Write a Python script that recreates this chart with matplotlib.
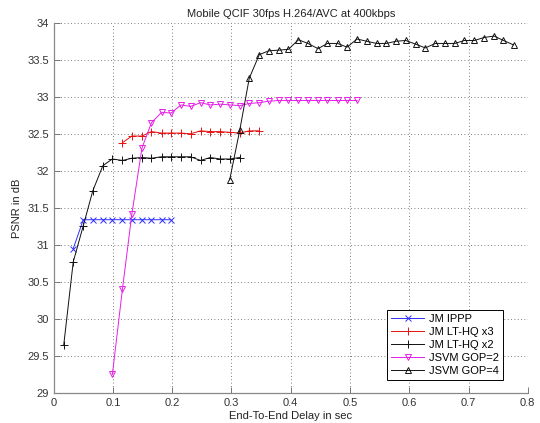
import numpy as np
import matplotlib
matplotlib.use('Agg')
import matplotlib.pyplot as plt
from matplotlib.ticker import FuncFormatter, MultipleLocator

# end-to-end delay of each frame slot (sec), index 0 = slot 1
delay = [0.017, 0.033, 0.050, 0.066, 0.083, 0.099, 0.116, 0.132, 0.149, 0.165,
         0.182, 0.198, 0.215, 0.231, 0.248, 0.264, 0.281, 0.297, 0.314, 0.330,
         0.347, 0.363, 0.380, 0.396, 0.413, 0.429, 0.446, 0.462, 0.479, 0.495,
         0.512, 0.528, 0.545, 0.561, 0.578, 0.594, 0.611, 0.627, 0.644, 0.660,
         0.677, 0.693, 0.710, 0.726, 0.743, 0.759, 0.776]

x_ippp = delay[1:12]
psnr_ippp = [30.95, 31.34, 31.34, 31.34, 31.34, 31.34, 31.34, 31.34, 31.34, 31.34, 31.34]

x_lt3 = delay[6:21]
psnr_lt3 = [32.38, 32.47, 32.47, 32.53, 32.51, 32.51, 32.51, 32.50, 32.54, 32.53,
            32.53, 32.52, 32.51, 32.54, 32.54]

x_lt2 = delay[0:19]
psnr_lt2 = [29.65, 30.77, 31.26, 31.73, 32.07, 32.16, 32.14, 32.17, 32.18, 32.17,
            32.19, 32.19, 32.19, 32.19, 32.14, 32.18, 32.16, 32.16, 32.18]

x_gop2 = delay[5:31]
psnr_gop2 = [29.25, 30.40, 31.42, 32.31, 32.65, 32.79, 32.78, 32.89, 32.87, 32.92,
             32.89, 32.90, 32.89, 32.88, 32.91, 32.92, 32.94, 32.95, 32.95, 32.95,
             32.95, 32.95, 32.95, 32.95, 32.95, 32.95]

x_gop4 = delay[17:47]
psnr_gop4 = [31.88, 32.55, 33.25, 33.57, 33.62, 33.63, 33.64, 33.77, 33.72, 33.65,
             33.72, 33.72, 33.67, 33.78, 33.75, 33.72, 33.72, 33.75, 33.76, 33.71,
             33.66, 33.72, 33.72, 33.72, 33.76, 33.76, 33.80, 33.82, 33.76, 33.70]

plt.rcParams['font.family'] = ['Liberation Sans', 'DejaVu Sans']
plt.rcParams['font.size'] = 8

fig = plt.figure(figsize=(5.4, 4.23), dpi=100)
ax = fig.add_axes([0.0994, 0.0709, 0.878, 0.8754])

lw = 0.7
ax.plot(x_ippp, psnr_ippp, color='#3030ff', marker='x', ms=4, mew=0.7, lw=lw, label='JM IPPP')
ax.plot(x_lt3, psnr_lt3, color='#e81010', marker='+', ms=6, mew=0.7, lw=lw, label='JM LT-HQ x3')
ax.plot(x_lt2, psnr_lt2, color='#111111', marker='+', ms=6, mew=0.7, lw=lw, label='JM LT-HQ x2')
ax.plot(x_gop2, psnr_gop2, color='#e81ee8', marker='v', ms=5, mfc='none', mew=0.7, lw=lw, label='JSVM GOP=2')
ax.plot(x_gop4, psnr_gop4, color='#111111', marker='^', ms=5, mfc='none', mew=0.7, lw=lw, label='JSVM GOP=4')

ax.set_xlim(0, 0.8)
ax.set_ylim(29, 34)
ax.xaxis.set_major_locator(MultipleLocator(0.1))
ax.yaxis.set_major_locator(MultipleLocator(0.5))
fmt = FuncFormatter(lambda v, p: '%g' % round(v, 2))
ax.xaxis.set_major_formatter(fmt)
ax.yaxis.set_major_formatter(fmt)
ax.tick_params(direction='in', length=4, width=0.6, color='#666666', labelsize=8, labelcolor='#333333')
ax.grid(True, linestyle=(0, (1, 3)), color='#555555', linewidth=0.6)
for s in ['top', 'right']:
    ax.spines[s].set_visible(False)
for s in ['left', 'bottom']:
    ax.spines[s].set_color('#888888')
    ax.spines[s].set_linewidth(0.9)

ax.set_title('Mobile QCIF 30fps H.264/AVC at 400kbps', fontsize=8, pad=4, color='#222222')
ax.set_xlabel('End-To-End Delay in sec', fontsize=8, labelpad=2, color='#222222')
ax.set_ylabel('PSNR in dB', fontsize=8, labelpad=4, color='#222222')

leg = ax.legend(loc='lower right', bbox_to_anchor=(0.947, 0.035), fontsize=8,
                fancybox=False, framealpha=1, edgecolor='black',
                handlelength=3.0, borderpad=0.35, labelspacing=0.28, handletextpad=0.4,
                borderaxespad=0)
leg.get_frame().set_linewidth(0.7)

fig.savefig('out.png', dpi=100)
